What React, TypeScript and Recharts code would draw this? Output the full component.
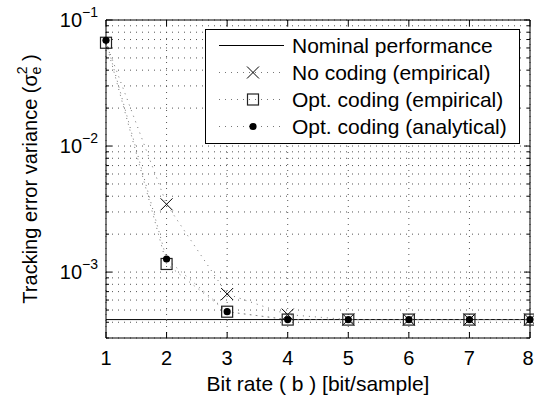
import React from 'react';
import { ComposedChart, Line, XAxis, YAxis, CartesianGrid, Legend } from 'recharts';

// bit rate b [bit/sample]
const bitRate = [1, 2, 3, 4, 5, 6, 7, 8];

// tracking error variance per bit rate
const nominal = [4.2e-4, 4.2e-4, 4.2e-4, 4.2e-4, 4.2e-4, 4.2e-4, 4.2e-4, 4.2e-4];
const noCoding = [0.066, 3.45e-3, 6.7e-4, 4.6e-4, 4.2e-4, 4.2e-4, 4.2e-4, 4.2e-4];
const optEmpirical = [0.066, 1.16e-3, 4.85e-4, 4.2e-4, 4.2e-4, 4.2e-4, 4.2e-4, 4.2e-4];
const optAnalytical = [0.069, 1.27e-3, 4.85e-4, 4.2e-4, 4.2e-4, 4.2e-4, 4.2e-4, 4.2e-4];

// log axis ticks: decades get labels, the rest are minor
const yTicks = [
  3e-4, 4e-4, 5e-4, 6e-4, 7e-4, 8e-4, 9e-4,
  1e-3, 2e-3, 3e-3, 4e-3, 5e-3, 6e-3, 7e-3, 8e-3, 9e-3,
  1e-2, 2e-2, 3e-2, 4e-2, 5e-2, 6e-2, 7e-2, 8e-2, 9e-2,
  1e-1,
];
const yDomain = [3e-4, 1e-1];

const legendNames = [
  'Nominal performance',
  'No coding (empirical)',
  'Opt. coding (empirical)',
  'Opt. coding (analytical)',
];

const data = bitRate.map((b, i) => ({
  b,
  nominal: nominal[i],
  noCoding: noCoding[i],
  optEmpirical: optEmpirical[i],
  optAnalytical: optAnalytical[i],
}));

const W = 534;
const H = 401;
const FONT = '"Liberation Sans", Arial, Helvetica, sans-serif';

const isDecade = (v: number) => {
  const l = Math.log10(v);
  return Math.abs(l - Math.round(l)) < 1e-6;
};

const LeftTick = ({ x, y, payload }: any) => {
  const major = isDecade(payload.value);
  const exp = Math.round(Math.log10(payload.value));
  return (
    <g>
      <line x1={x} x2={x + (major ? 6 : 3)} y1={y} y2={y} stroke="#000" />
      {major && (
        <text x={x - 8} y={y + 7} textAnchor="end" fontSize={20} fontFamily={FONT} fill="#000">
          10
          <tspan dy={-10} fontSize={14}>{'\u2212' + Math.abs(exp)}</tspan>
        </text>
      )}
    </g>
  );
};

const RightTick = ({ x, y, payload }: any) => {
  const major = isDecade(payload.value);
  return <line x1={x} x2={x - (major ? 6 : 3)} y1={y} y2={y} stroke="#000" />;
};

const BottomTick = ({ x, y, payload }: any) => (
  <g>
    <line x1={x} x2={x} y1={y} y2={y - 6} stroke="#000" />
    {/* keep the last label inside the svg */}
    <text x={Math.min(x, W - 6)} y={y + 27} textAnchor="middle" fontSize={20} fontFamily={FONT} fill="#000">
      {payload.value}
    </text>
  </g>
);

const TopTick = ({ x, y }: any) => <line x1={x} x2={x} y1={y} y2={y + 6} stroke="#000" />;

// markers
const XMark = ({ cx, cy, index }: any) => {
  // first point sits under the coded-series markers
  if (cx == null || cy == null || index === 0) return null;
  const s = 6;
  return (
    <path d={`M${cx - s},${cy - s}L${cx + s},${cy + s}M${cx - s},${cy + s}L${cx + s},${cy - s}`} stroke="#000" strokeWidth={1} fill="none" />
  );
};

const SquareMark = ({ cx, cy }: any) => {
  if (cx == null || cy == null) return null;
  const s = 5.5;
  return <rect x={cx - s} y={cy - s} width={2 * s} height={2 * s} stroke="#222" strokeWidth={1.2} fill="none" />;
};

const DotMark = ({ cx, cy }: any) => {
  if (cx == null || cy == null) return null;
  return <circle cx={cx} cy={cy} r={3.6} fill="#000" stroke="none" />;
};

const YTitle = ({ viewBox }: any) => {
  const cx = viewBox.x + 30;
  const cy = viewBox.y + viewBox.height / 2;
  return (
    <text
      x={cx}
      y={cy}
      transform={`rotate(-90, ${cx}, ${cy})`}
      textAnchor="middle"
      dominantBaseline="central"
      fontSize={20}
      fontFamily={FONT}
      fill="#000"
    >
      Tracking error variance (σ
      <tspan dy={-8} fontSize={14}>2</tspan>
      <tspan dx={-8} dy={14} fontSize={14}>e</tspan>
      <tspan dy={-6}> )</tspan>
    </text>
  );
};

const XTitle = ({ viewBox }: any) => (
  <text
    x={viewBox.x + viewBox.width / 2}
    y={viewBox.y + 53}
    textAnchor="middle"
    fontSize={21}
    fontFamily={FONT}
    fill="#000"
  >
    Bit rate ( b ) [bit/sample]
  </text>
);

const LegendSample = ({ idx }: { idx: number }) => (
  <svg width={80} height={27} style={{ display: 'block' }}>
    {idx === 0 ? (
      <line x1={13} x2={78} y1={13.5} y2={13.5} stroke="#000" />
    ) : (
      <line x1={13} x2={78} y1={13.5} y2={13.5} stroke="#777" strokeDasharray="1 5" />
    )}
    {idx === 1 && <XMark cx={47} cy={13.5} index={1} />}
    {idx === 2 && <SquareMark cx={47} cy={13.5} />}
    {idx === 3 && <DotMark cx={47} cy={13.5} />}
  </svg>
);

const LegendBox = () => (
  <div
    style={{
      width: 313,
      height: 111,
      border: '1px solid #000',
      background: '#fff',
      paddingTop: 2,
      fontFamily: FONT,
      fontSize: 21,
      color: '#000',
    }}
  >
    {legendNames.map((name, i) => (
      <div key={name} style={{ display: 'flex', alignItems: 'center', height: 27 }}>
        <LegendSample idx={i} />
        <span style={{ marginLeft: 6, whiteSpace: 'nowrap' }}>{name}</span>
      </div>
    ))}
  </div>
);

export default function App() {
  return (
    <div style={{ position: 'absolute', left: 0, top: 0, width: W, height: H, background: '#fff' }}>
      <ComposedChart width={W} height={H} data={data} margin={{ top: 0, right: 0, bottom: 0, left: 0 }}>
        <CartesianGrid xAxisId="b" yAxisId="l" stroke="#555" strokeDasharray="1 5" />
        <XAxis
          xAxisId="b"
          dataKey="b"
          type="number"
          domain={[1, 8]}
          ticks={bitRate}
          interval={0}
          height={63}
          tickSize={0}
          tickMargin={0}
          tickLine={false}
          axisLine={{ stroke: '#000' }}
          tick={<BottomTick />}
          label={<XTitle />}
        />
        <XAxis
          xAxisId="t"
          orientation="top"
          dataKey="b"
          type="number"
          domain={[1, 8]}
          ticks={bitRate}
          interval={0}
          height={20}
          tickSize={0}
          tickMargin={0}
          tickLine={false}
          axisLine={{ stroke: '#000' }}
          tick={<TopTick />}
        />
        <YAxis
          yAxisId="l"
          type="number"
          scale="log"
          domain={yDomain}
          allowDataOverflow
          ticks={yTicks}
          interval={0}
          width={106}
          tickSize={0}
          tickMargin={0}
          tickLine={false}
          axisLine={{ stroke: '#000' }}
          tick={<LeftTick />}
          label={<YTitle />}
        />
        <YAxis
          yAxisId="r"
          orientation="right"
          type="number"
          scale="log"
          domain={yDomain}
          allowDataOverflow
          ticks={yTicks}
          interval={0}
          width={4}
          tickSize={0}
          tickMargin={0}
          tickLine={false}
          axisLine={{ stroke: '#000' }}
          tick={<RightTick />}
        />
        <Legend
          layout="vertical"
          align="center"
          verticalAlign="middle"
          wrapperStyle={{ left: 205, top: 29, width: 315 }}
          content={() => <LegendBox />}
        />
        <Line xAxisId="b" yAxisId="l" type="linear" dataKey="nominal" stroke="#000" strokeWidth={1} dot={false} isAnimationActive={false} />
        <Line xAxisId="b" yAxisId="l" type="linear" dataKey="noCoding" stroke="#777" strokeDasharray="1 5" dot={<XMark />} isAnimationActive={false} />
        <Line xAxisId="b" yAxisId="l" type="linear" dataKey="optEmpirical" stroke="#777" strokeDasharray="1 5" dot={<SquareMark />} isAnimationActive={false} />
        <Line xAxisId="b" yAxisId="l" type="linear" dataKey="optAnalytical" stroke="#777" strokeDasharray="1 5" dot={<DotMark />} isAnimationActive={false} />
      </ComposedChart>
    </div>
  );
}
